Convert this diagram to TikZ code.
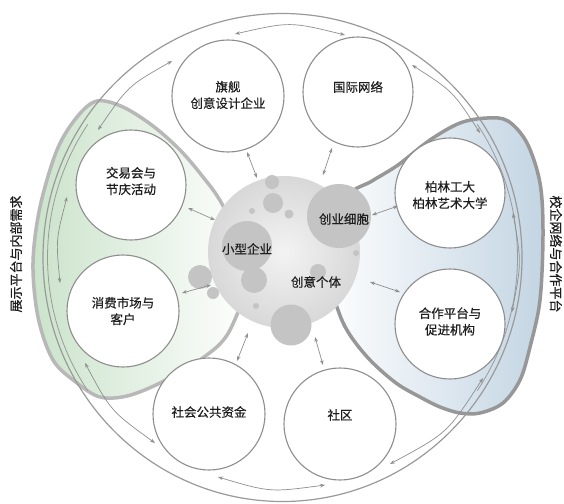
\documentclass[tikz,border=0pt]{standalone}
\usepackage{fontspec}
\setmainfont{Noto Sans CJK SC}[FakeBold=0.45]
\usetikzlibrary{arrows.meta}
\definecolor{ring}{HTML}{9A9A9A}
\definecolor{bubline}{HTML}{8E8E8E}
\definecolor{arr}{HTML}{8F8F8F}
\definecolor{tc}{HTML}{1E1E1E}
\definecolor{gfill}{HTML}{CBE3CB}
\definecolor{bfill}{HTML}{C3D5E3}
\definecolor{gedge}{HTML}{B8B8B8}
\definecolor{bedge}{HTML}{979797}
\definecolor{dot}{HTML}{C4C4C4}
\definecolor{corein}{HTML}{F3F3F3}
\definecolor{coreout}{HTML}{D8D8D8}
\begin{document}
\begin{tikzpicture}[x=1pt,y=-1pt,
  bub/.style={circle, draw=bubline, line width=1.1pt, fill=white, minimum size=#1, inner sep=0pt},
  txt/.style={font=\fontsize{12.5}{16.5}\selectfont, text=tc, align=center, inner sep=0pt},
  side/.style={font=\fontsize{13}{16}\selectfont, text=tc, inner sep=0pt},
  dotc/.style={circle, fill=dot, minimum size=#1, inner sep=0pt},
  innerline/.style={draw=ring, line width=0.8pt},
  link/.style={draw=arr, line width=0.7pt, arrows={Stealth[length=5pt,width=3.6pt]-Stealth[length=5pt,width=3.6pt]}}]
\useasboundingbox (0,0) rectangle (564,503);
\fill[white] (0,0) rectangle (564,503);
% regions
\path[left color=gfill, right color=white, draw=gedge, line width=3.5pt]
  plot[smooth cycle, tension=0.55] coordinates {(97,101) (123,107) (153,126) (180,150) (203,177) (222,204) (250,262) (230,330) (200,360) (160,383) (127,396) (100,397) (77,383) (53,360) (38,317) (33,263) (40,207) (57,150) (77,117)};
\path[left color=white, right color=bfill, draw=bedge, line width=3.5pt]
  plot[smooth cycle, tension=0.55] coordinates {(346,198) (372,181) (398,165) (430,140) (460,123) (487,118) (508,121) (527,143) (540,183) (543,233) (540,300) (530,347) (520,380) (503,403) (480,413) (460,413) (440,407) (420,397) (396,383) (370,360) (350,335) (338,310) (322,255)};
% inner side lines
\draw[innerline] plot[domain=146:214, variable=\t, samples=40, smooth] ({282.5+235*cos(\t)}, {257.5+238*sin(\t)});
\draw[innerline] plot[domain=-34:34, variable=\t, samples=40, smooth] ({282.5+235*cos(\t)}, {257.5+238*sin(\t)});
% outer ring
\draw[ring, line width=1.2pt] (282.5,257.5) ellipse [x radius=239.5pt, y radius=244pt];
% core
\node[circle, minimum size=152pt, inner sep=0pt, inner color=corein, outer color=coreout] (core) at (284,252) {};
\node[dotc=14pt] (d1) at (272,182) {};
\node[dotc=20pt] (d2) at (273,203) {};
\node[dotc=6pt] (d3) at (252,211) {};
\node[dotc=9pt] (d4) at (289,214) {};
\node[dotc=64pt] (cell) at (339,216) {};
\node[dotc=50pt] (sme) at (247,246) {};
\node[dotc=26pt] (d5) at (254,280) {};
\node[dotc=6pt] (d6) at (356,253) {};
\node[dotc=16pt] (d7) at (318,272) {};
\node[dotc=24pt] (d8) at (200,277) {};
\node[dotc=12pt] (d9) at (213,293) {};
\node[dotc=6pt] (d10) at (256,306) {};
\node[dotc=41pt] (d11) at (291,325) {};
\node[txt] (smet) at (247,249) {小型企业};
\node[txt] (cellt) at (344,219) {创业细胞};
\node[txt] (indt) at (316,282) {创意个体};
% bubbles
\node[bub=112pt] (flag) at (228,96) {};
\node[bub=110pt] (intl) at (358,92) {};
\node[bub=110pt] (fair) at (131,185) {};
\node[bub=112pt] (mkt) at (123,311) {};
\node[bub=110pt] (uni) at (450,193) {};
\node[bub=110pt] (coop) at (450,324) {};
\node[bub=112pt] (fund) at (209,414) {};
\node[bub=112pt] (comm) at (340,424) {};
\node[txt] (flagt) at (228,95) {旗舰\\创意设计企业};
\node[txt] (intlt) at (358,87) {国际网络};
\node[txt] (fairt) at (131,181) {交易会与\\节庆活动};
\node[txt] (mktt) at (123,311) {消费市场与\\客户};
\node[txt] (unit) at (450,195) {柏林工大\\柏林艺术大学};
\node[txt] (coopt) at (450,321.5) {合作平台与\\促进机构};
\node[txt] (fundt) at (209,412) {社会公共资金};
\node[txt] (commt) at (340,415) {社区};
% side labels
\node[side, rotate=90] (lside) at (16,254) {展示平台与内部需求};
\node[side, rotate=-90] (rside) at (556,254) {校企网络与合作平台};
% ring arrows
\coordinate (a1s) at (235,34); \coordinate (a1e) at (345,35);
\draw[link] (a1s) .. controls (290,21.5) .. (a1e);
\coordinate (a2s) at (172,61); \coordinate (a2e) at (98,130);
\draw[link] (a2s) .. controls (128,86) .. (a2e);
\coordinate (a3s) at (67,197); \coordinate (a3e) at (60,283);
\draw[link] (a3s) .. controls (55.9,239.4) .. (a3e);
\coordinate (a4s) at (85,363); \coordinate (a4e) at (155,443);
\draw[link] (a4s) .. controls (110.8,411) .. (a4e);
\coordinate (a5s) at (218,477); \coordinate (a5e) at (325,485);
\draw[link] (a5s) .. controls (270,492.4) .. (a5e);
\coordinate (a6s) at (390,464); \coordinate (a6e) at (483,378);
\draw[link] (a6s) .. controls (447.5,433) .. (a6e);
\coordinate (a7s) at (513,213); \coordinate (a7e) at (512,312);
\draw[link] (a7s) .. controls (521.5,262.5) .. (a7e);
\coordinate (a8s) at (412,65); \coordinate (a8e) at (480,133);
\draw[link] (a8s) .. controls (453,91.4) .. (a8e);
% radial arrows
\coordinate (r1s) at (247,152); \coordinate (r1e) at (257,178);
\draw[link] (r1s) -- (r1e);
\coordinate (r2s) at (332,148); \coordinate (r2e) at (323,175);
\draw[link] (r2s) -- (r2e);
\coordinate (r3s) at (188,208); \coordinate (r3e) at (215,220);
\draw[link] (r3s) -- (r3e);
\coordinate (r4s) at (182,293); \coordinate (r4e) at (211,285);
\draw[link] (r4s) -- (r4e);
\coordinate (r5s) at (372,215); \coordinate (r5e) at (398,206);
\draw[link] (r5s) -- (r5e);
\coordinate (r6s) at (370,282); \coordinate (r6e) at (400,292);
\draw[link] (r6s) -- (r6e);
\coordinate (r7s) at (248,333); \coordinate (r7e) at (237,361);
\draw[link] (r7s) -- (r7e);
\coordinate (r8s) at (315,337); \coordinate (r8e) at (323,365);
\draw[link] (r8s) -- (r8e);
\end{tikzpicture}
\end{document}
